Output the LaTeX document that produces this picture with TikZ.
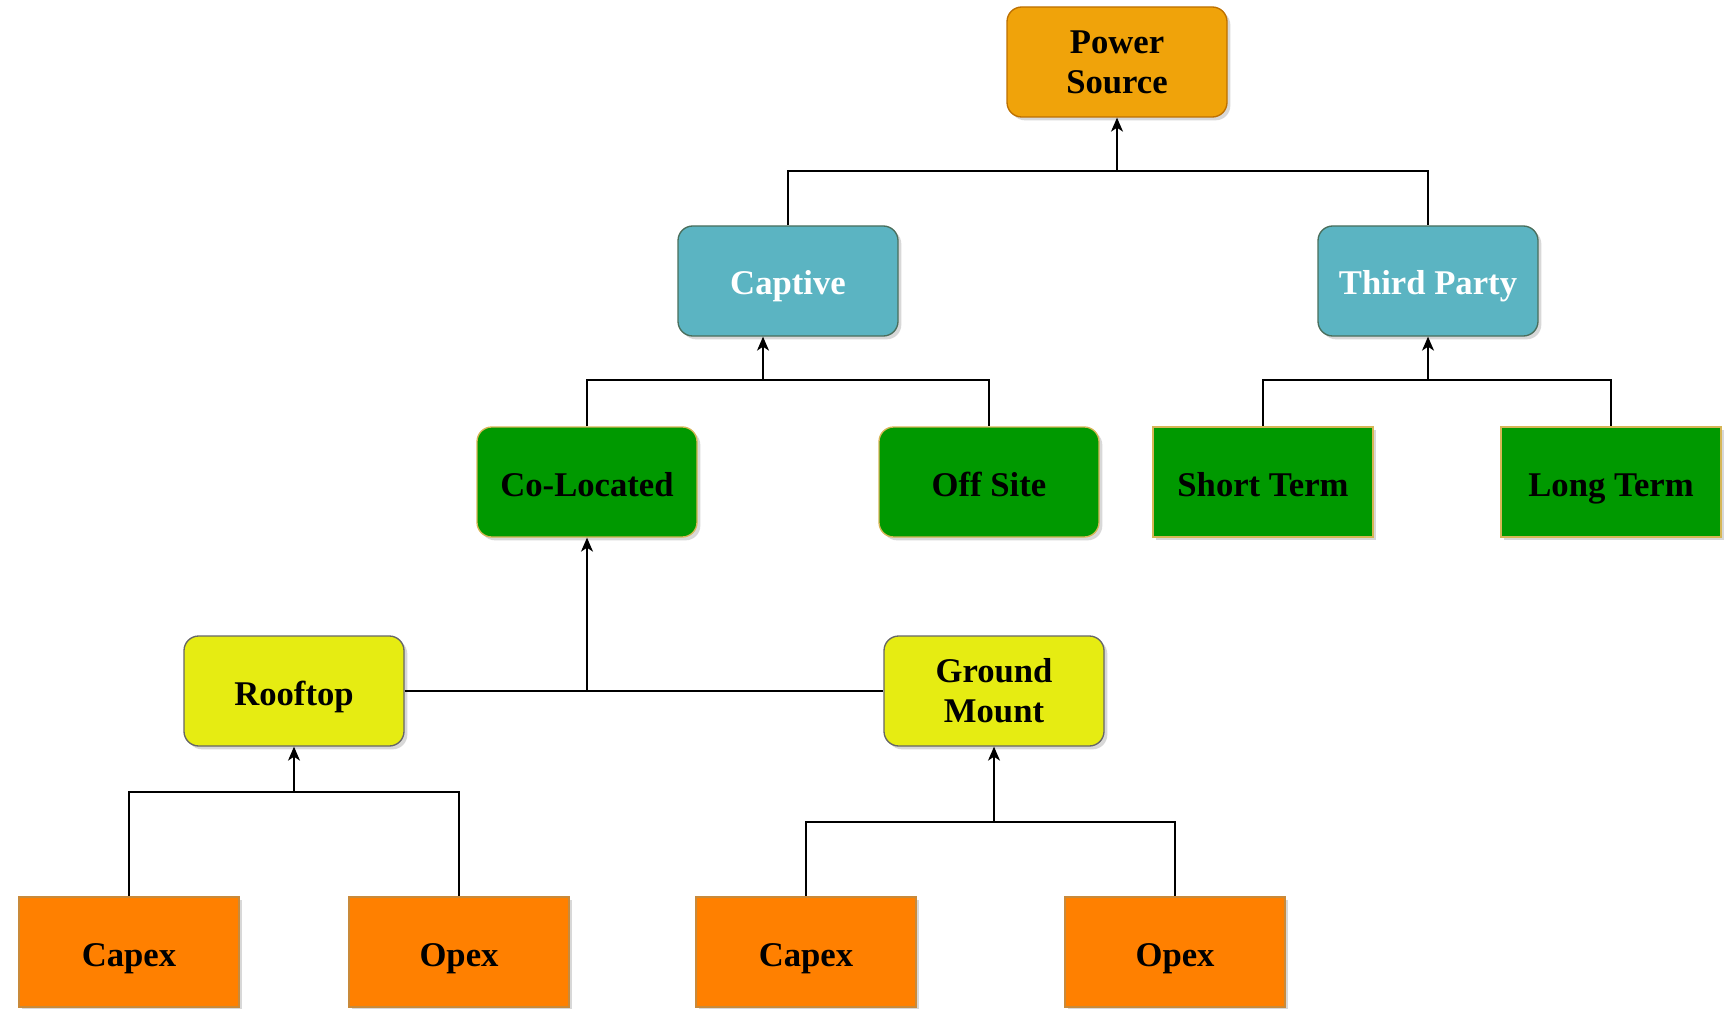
\documentclass[tikz,border=0pt]{standalone}
\usepackage{fontspec}
\setmainfont{Liberation Serif}
\usetikzlibrary{arrows.meta,shadows}
\definecolor{psfill}{HTML}{F0A30A}
\definecolor{psline}{HTML}{BD7000}
\definecolor{cyfill}{HTML}{5BB4C2}
\definecolor{cyline}{HTML}{4A6E5C}
\definecolor{grfill}{HTML}{009900}
\definecolor{grline}{HTML}{D6B656}
\definecolor{yefill}{HTML}{E6EC12}
\definecolor{yeline}{HTML}{666666}
\definecolor{orfill}{HTML}{FF8000}
\definecolor{orline}{HTML}{C98A3A}
\tikzset{
  box/.style={minimum width=165pt, minimum height=82.5pt, inner sep=2pt, align=center,
    line width=1pt, font=\fontsize{26}{30}\selectfont\bfseries,
    text height=21pt, text depth=0pt,
    drop shadow={shadow xshift=2.5pt, shadow yshift=-2.5pt, fill=black!30}},
  rbox/.style={box, rounded corners=11pt},
  psbox/.style={rbox, fill=psfill, draw=psline},
  cybox/.style={rbox, fill=cyfill, draw=cyline, text=white},
  grrbox/.style={rbox, fill=grfill, draw=grline},
  grsbox/.style={box, fill=grfill, draw=grline, line width=1.6pt},
  yebox/.style={rbox, fill=yefill, draw=yeline},
  orbox/.style={box, fill=orfill, draw=orline, line width=1.6pt},
  link/.style={draw=black, line width=1.1pt},
  arr/.style={link, -{Stealth[length=10.5pt, width=9pt, inset=3pt]}}
}
\begin{document}
\begin{tikzpicture}[x=0.75pt, y=-0.75pt]
\useasboundingbox (0,0) rectangle (1734,1009);
% nodes
\node[psbox, text height=, text depth=] (ps) at (1117,62) {Power\\Source};
\node[cybox] (cap) at (788,281) {Captive};
\node[cybox] (tp) at (1428,281) {Third Party};
\node[grrbox] (col) at (587,482) {Co-Located};
\node[grrbox] (off) at (989,482) {Off Site};
\node[grsbox] (st) at (1263,482) {Short Term};
\node[grsbox] (lt) at (1611,482) {Long Term};
\node[yebox] (roof) at (294,691) {Rooftop};
\node[yebox, text height=, text depth=] (gm) at (994,691) {Ground\\Mount};
\node[orbox] (c1) at (129,952) {Capex};
\node[orbox] (o1) at (459,952) {Opex};
\node[orbox] (c2) at (806,952) {Capex};
\node[orbox] (o2) at (1175,952) {Opex};
% junctions
\coordinate (j1) at (1117,171);
\coordinate (j2) at (763,380);
\coordinate (j3) at (1428,380);
\coordinate (j4) at (587,691);
\coordinate (j5) at (294,792);
\coordinate (j6) at (994,822);
% connectors
\draw[link] (cap.north) |- (j1) -| (tp.north);
\draw[arr] (j1) -- (ps.south);
\draw[link] (col.north) |- (j2) -| (off.north);
\draw[arr] (j2) -- (j2 |- cap.south);
\draw[link] (st.north) |- (j3) -| (lt.north);
\draw[arr] (j3) -- (tp.south);
\draw[link] (roof.east) -- (gm.west);
\draw[arr] (j4) -- (col.south);
\draw[link] (c1.north) |- (j5) -| (o1.north);
\draw[arr] (j5) -- (roof.south);
\draw[link] (c2.north) |- (j6) -| (o2.north);
\draw[arr] (j6) -- (gm.south);
\end{tikzpicture}
\end{document}
